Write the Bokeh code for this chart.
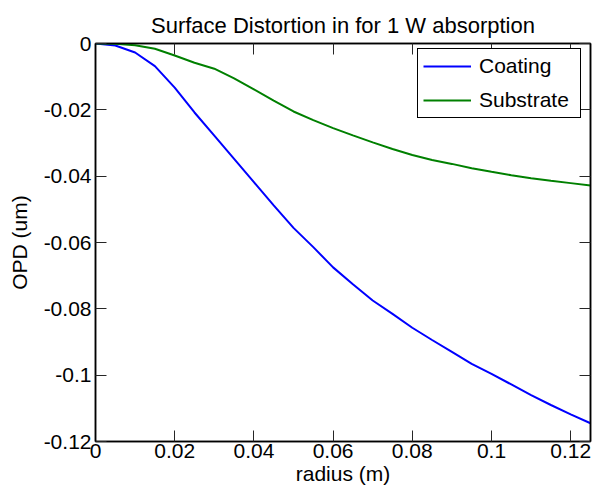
from bokeh.plotting import figure
from bokeh.models import LinearAxis, FixedTicker, CustomJSTickFormatter, Range1d
from bokeh.embed import file_html
from bokeh.resources import INLINE

radius = [0.000, 0.005, 0.010, 0.015, 0.020, 0.025, 0.030, 0.035, 0.040, 0.045,
          0.050, 0.055, 0.060, 0.065, 0.070, 0.075, 0.080, 0.085, 0.090, 0.095,
          0.100, 0.105, 0.110, 0.115, 0.120, 0.125]
coating = [0.0000, -0.0006, -0.0027, -0.0068, -0.0133, -0.0208, -0.0278, -0.0348, -0.0418, -0.0488,
           -0.0556, -0.0614, -0.0675, -0.0726, -0.0775, -0.0815, -0.0857, -0.0894, -0.0930, -0.0966,
           -0.0996, -0.1028, -0.1060, -0.1090, -0.1118, -0.1145]
substrate = [0.0000, -0.0001, -0.0005, -0.0016, -0.0036, -0.0058, -0.0076, -0.0105, -0.0138, -0.0172,
             -0.0205, -0.0231, -0.0255, -0.0277, -0.0298, -0.0318, -0.0336, -0.0351, -0.0363, -0.0376,
             -0.0387, -0.0397, -0.0406, -0.0414, -0.0421, -0.0428]
x_ticks = [0, 0.02, 0.04, 0.06, 0.08, 0.1, 0.12]
y_ticks = [0, -0.02, -0.04, -0.06, -0.08, -0.1, -0.12]

FONT = "Liberation Sans"
FS = "21px"

p = figure(width=593, height=492, output_backend="svg", toolbar_location=None,
           x_range=Range1d(0, 0.125), y_range=Range1d(-0.12, 0),
           min_border_left=95, min_border_right=3, min_border_top=43, min_border_bottom=51,
           title="Surface Distortion in for 1 W absorption")
p.title.text_font = FONT
p.title.text_font_size = "22px"
p.title.text_font_style = "normal"
p.title.align = "center"
p.title.text_color = "black"
p.title.standoff = 12
p.grid.visible = False
p.outline_line_color = "black"
p.outline_line_width = 1.5
p.background_fill_color = "white"
p.border_fill_color = "white"

fmt = CustomJSTickFormatter(code="""
let s = tick.toFixed(2);
s = s.replace(/0+$/, '').replace(/\\.$/, '');
if (s === '-0') s = '0';
return s;
""")

def style(ax, ticks, show_labels=True):
    ax.ticker = FixedTicker(ticks=ticks)
    ax.formatter = fmt
    ax.major_tick_in = 11
    ax.major_tick_out = 0
    ax.minor_tick_line_color = None
    ax.major_tick_line_color = "#262626"
    ax.major_tick_line_width = 1
    ax.axis_line_color = "black"
    ax.axis_line_width = 1.5
    ax.major_label_text_font = FONT
    ax.major_label_text_font_size = FS if show_labels else "0px"
    ax.major_label_text_color = "black"
    ax.major_label_standoff = 3 if show_labels else 0
    ax.axis_label_text_font = FONT
    ax.axis_label_text_font_size = FS
    ax.axis_label_text_font_style = "normal"
    ax.axis_label_text_color = "black"
    ax.axis_label_standoff = 2

style(p.xaxis[0], x_ticks)
style(p.yaxis[0], y_ticks)
p.xaxis[0].axis_label = "radius (m)"
p.yaxis[0].axis_label = "OPD (um)"
p.xaxis[0].major_label_standoff = 2
p.xaxis[0].axis_label_standoff = 1
p.yaxis[0].major_label_standoff = 4
p.yaxis[0].axis_label_standoff = 10

top_ax = LinearAxis()
style(top_ax, x_ticks, show_labels=False)
right_ax = LinearAxis()
style(right_ax, y_ticks, show_labels=False)
p.add_layout(top_ax, "above")
p.add_layout(right_ax, "right")

p.line(radius, coating, line_color="#0000FF", line_width=2, legend_label="Coating")
p.line(radius, substrate, line_color="#008000", line_width=2, legend_label="Substrate")

lg = p.legend[0]
lg.location = (322, 323)
lg.margin = 0
lg.padding = 5
lg.spacing = 10
lg.glyph_width = 48
lg.glyph_height = 24
lg.label_standoff = 8
lg.label_width = 96
lg.label_height = 24
lg.label_text_font = FONT
lg.label_text_font_size = FS
lg.label_text_color = "black"
lg.border_line_color = "black"
lg.border_line_width = 1.5
lg.border_line_alpha = 1
lg.background_fill_alpha = 1

open("out.html", "w").write(file_html(p, INLINE))
